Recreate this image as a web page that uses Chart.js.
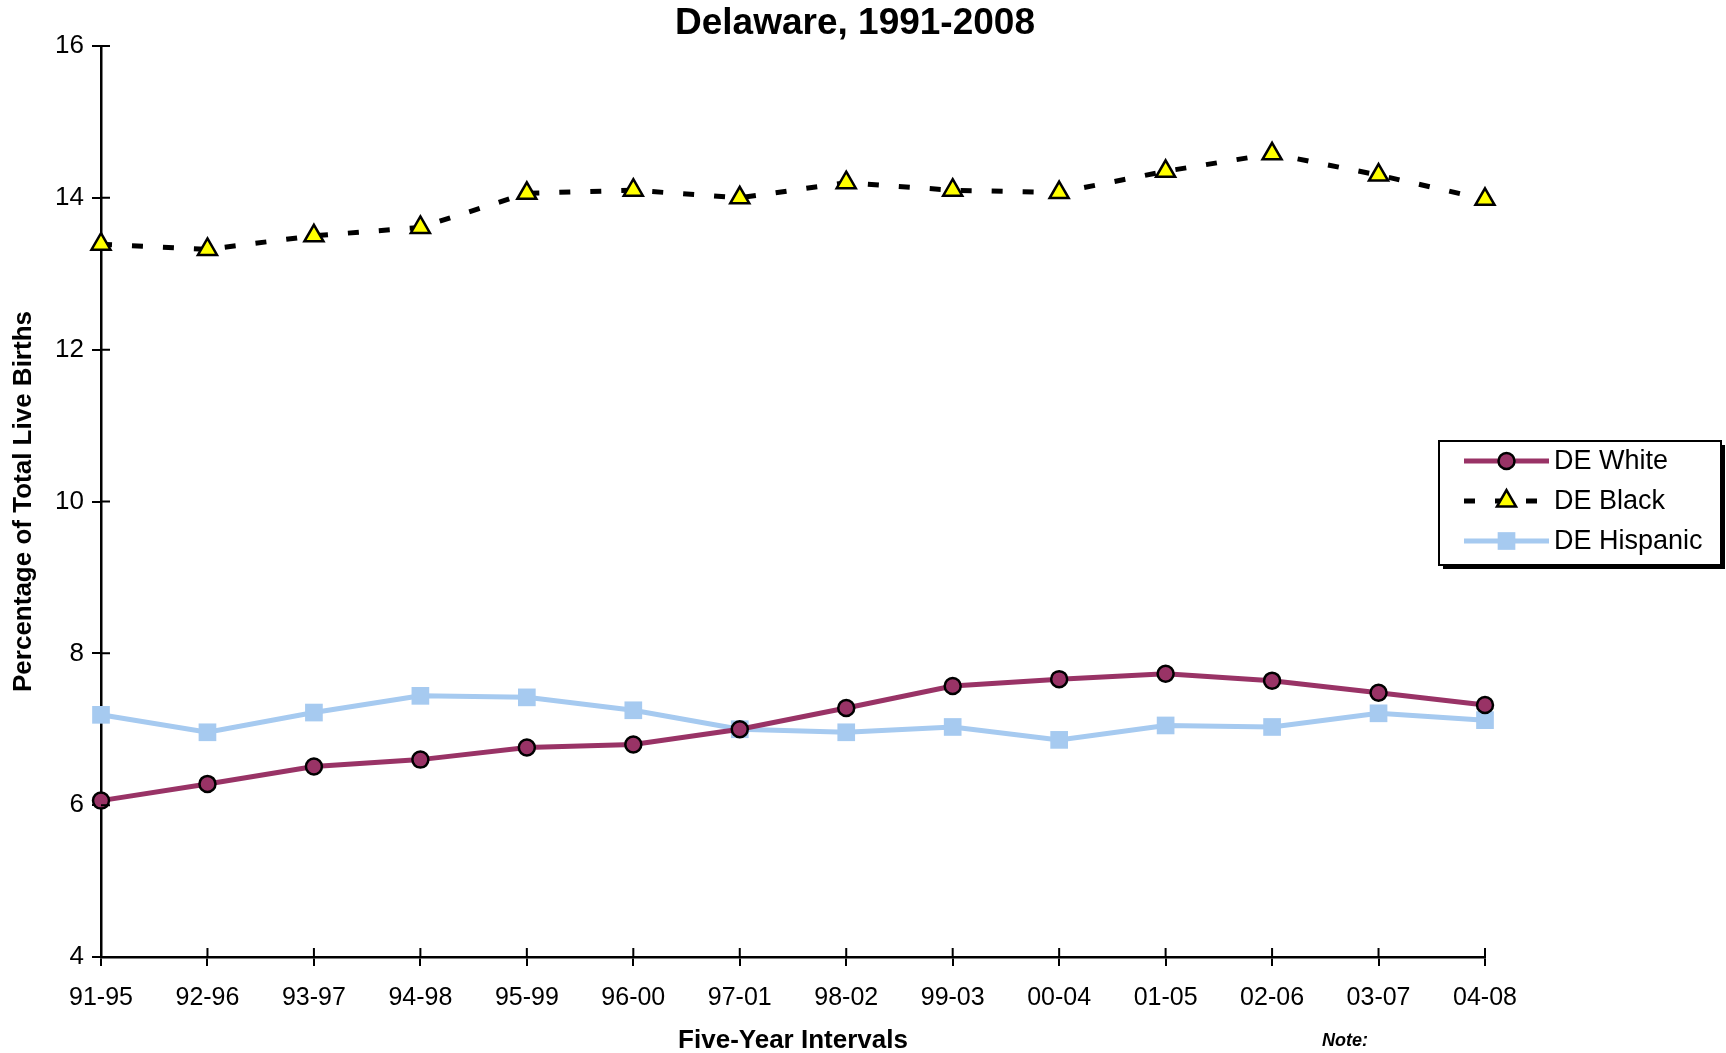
<!DOCTYPE html>
<html>
<head>
<meta charset="utf-8">
<script src="https://cdn.jsdelivr.net/npm/chart.js@4/dist/chart.umd.min.js"></script>
<style>
  html, body { margin: 0; padding: 0; background: #fff; }
  #wrap { width: 1726px; height: 1053px; position: relative; }
</style>
</head>
<body>
<div id="wrap"><canvas id="myChart"></canvas></div>
<script>
const intervals = ["91-95", "92-96", "93-97", "94-98", "95-99", "96-00", "97-01", "98-02", "99-03", "00-04", "01-05", "02-06", "03-07", "04-08"]
const deWhite = [6.06, 6.28, 6.51, 6.60, 6.76, 6.80, 7.00, 7.28, 7.57, 7.66, 7.73, 7.64, 7.48, 7.32]
const deBlack = [13.39, 13.32, 13.50, 13.61, 14.06, 14.10, 14.00, 14.20, 14.10, 14.07, 14.35, 14.58, 14.30, 13.98]
const deHispanic = [7.19, 6.96, 7.22, 7.44, 7.42, 7.25, 7.00, 6.96, 7.03, 6.86, 7.05, 7.03, 7.21, 7.12]
const yTicks = [4, 6, 8, 10, 12, 14, 16]

const FONT = "'Liberation Sans', Arial, sans-serif"

// inner half of the tick marks (chart.js only draws the outer part), title and note
const extras = {
  id: "extras",
  afterDraw: chart => {
    const ctx = chart.ctx
    const x = chart.scales.x, y = chart.scales.y
    const ca = chart.chartArea
    ctx.save()
    ctx.strokeStyle = "#000"
    ctx.lineWidth = 2
    ctx.beginPath()
    y.ticks.forEach((t, i) => {
      const py = y.getPixelForTick(i)
      ctx.moveTo(ca.left, py); ctx.lineTo(ca.left + 9, py)
    })
    x.ticks.forEach((t, i) => {
      const px = x.getPixelForTick(i)
      ctx.moveTo(px, ca.bottom); ctx.lineTo(px, ca.bottom - 9)
    })
    ctx.stroke()

    ctx.fillStyle = "#000"
    ctx.textAlign = "center"
    ctx.textBaseline = "middle"
    ctx.font = "bold 37px " + FONT
    ctx.fillText("Delaware, 1991-2008", 855, 24)
    ctx.font = "italic bold 18px " + FONT
    ctx.fillText("Note:", 1345, 1041)
    ctx.restore()
  }
}

// legend box at right with shadow
const boxLegend = {
  id: "boxLegend",
  afterDraw: chart => {
    const ctx = chart.ctx
    const bx = 1439, by = 441, bw = 282, bh = 124
    ctx.save()
    ctx.fillStyle = "#000"
    ctx.fillRect(bx + 4, by + 4, bw, bh)
    ctx.fillStyle = "#fff"
    ctx.fillRect(bx, by, bw, bh)
    ctx.strokeStyle = "#000"
    ctx.lineWidth = 2
    ctx.strokeRect(bx, by, bw, bh)
    chart.data.datasets.forEach((ds, i) => {
      const ly = by + 20 + i * 40
      const x0 = bx + 25, x1 = bx + 110, xm = (x0 + x1) / 2
      ctx.beginPath()
      ctx.setLineDash(ds.borderDash || [])
      ctx.strokeStyle = ds.borderColor
      ctx.lineWidth = ds.borderWidth
      ctx.moveTo(x0, ly); ctx.lineTo(x1, ly)
      ctx.stroke()
      ctx.setLineDash([])
      ctx.fillStyle = ds.pointBackgroundColor
      ctx.strokeStyle = ds.pointBorderColor
      ctx.lineWidth = ds.pointBorderWidth
      const r = ds.pointRadius
      ctx.beginPath()
      if (ds.pointStyle === "circle") {
        ctx.arc(xm, ly, r, 0, Math.PI * 2)
      } else if (ds.pointStyle === "triangle") {
        ctx.moveTo(xm, ly - r); ctx.lineTo(xm + r * 0.866, ly + r * 0.5); ctx.lineTo(xm - r * 0.866, ly + r * 0.5); ctx.closePath()
      } else {
        const s = r * Math.SQRT1_2
        ctx.rect(xm - s, ly - s, s * 2, s * 2)
      }
      ctx.fill()
      if (ds.pointBorderWidth) ctx.stroke()
      ctx.fillStyle = "#000"
      ctx.font = "27px " + FONT
      ctx.textBaseline = "middle"
      ctx.fillText(ds.label, bx + 115, ly + 1)
    })
    ctx.restore()
  }
}

const data = {
  labels: intervals,
  datasets: [
    {
      label: "DE White",
      data: deWhite,
      borderColor: "#993366",
      borderWidth: 5,
      pointStyle: "circle",
      pointRadius: 8,
      pointBackgroundColor: "#993366",
      pointBorderColor: "#000",
      pointBorderWidth: 2.5,
      tension: 0
    },
    {
      label: "DE Black",
      data: deBlack,
      borderColor: "#000",
      borderWidth: 5,
      borderDash: [11, 20],
      pointStyle: "triangle",
      pointRadius: 11,
      pointBackgroundColor: "#ffff00",
      pointBorderColor: "#000",
      pointBorderWidth: 2.5,
      tension: 0
    },
    {
      label: "DE Hispanic",
      data: deHispanic,
      borderColor: "#a6caf0",
      borderWidth: 5,
      pointStyle: "rect",
      pointRadius: 12.5,
      pointBackgroundColor: "#a6caf0",
      pointBorderColor: "#a6caf0",
      pointBorderWidth: 0,
      tension: 0
    }
  ]
}

const config = {
  type: "line",
  data,
  options: {
    responsive: true,
    maintainAspectRatio: false,
    animation: false,
    clip: false,
    layout: { padding: { left: 0, right: 241, top: 46, bottom: 0 } },
    plugins: {
      legend: { display: false },
      tooltip: { enabled: false },
      title: { display: false }
    },
    scales: {
      x: {
        offset: false,
        grid: { display: true, drawOnChartArea: false, drawTicks: true, tickLength: 9, color: "#000", lineWidth: 2 },
        border: { display: true, color: "#000", width: 2.5 },
        ticks: { color: "#000", font: { family: FONT, size: 25 }, padding: 17, maxRotation: 0, autoSkip: false },
        title: { display: true, text: "Five-Year Intervals", color: "#000", font: { family: FONT, size: 26, weight: "bold" }, padding: { top: 0, bottom: -3 } },
        afterFit: s => { s.height = 96 }
      },
      y: {
        min: 4,
        max: 16,
        afterBuildTicks: s => { s.ticks = yTicks.map(v => ({ value: v })) },
        grid: { display: true, drawOnChartArea: false, drawTicks: true, tickLength: 9, color: "#000", lineWidth: 2 },
        border: { display: true, color: "#000", width: 2.5 },
        ticks: { color: "#000", font: { family: FONT, size: 26 }, padding: 8 },
        title: { display: true, text: "Percentage of Total Live Births", color: "#000", font: { family: FONT, size: 26, weight: "bold" }, padding: { top: 8, bottom: 0 } },
        afterFit: s => { s.width = 101 }
      }
    }
  },
  plugins: [extras, boxLegend]
}

const myChart = new Chart(document.getElementById("myChart"), config)
</script>
</body>
</html>
